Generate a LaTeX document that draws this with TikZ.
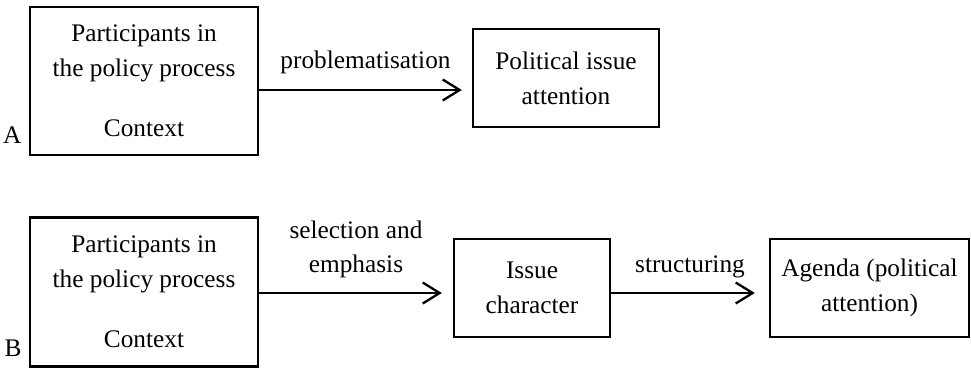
\documentclass[tikz,border=0pt]{standalone}
\usepackage{fontspec}
\setmainfont{Liberation Serif}
\usetikzlibrary{arrows.meta,positioning,calc}

\begin{document}
\begin{tikzpicture}[
    box/.style={draw, line width=1.3pt, align=center, inner sep=0pt,
        font=\fontsize{14.4}{19.9}\selectfont},
    flow/.style={-{Straight Barb[length=3.4mm, width=4.2mm]}, line width=1.3pt},
    lbl/.style={align=center, inner sep=0pt, font=\fontsize{14.4}{19.9}\selectfont}
]
    \useasboundingbox (0,0) rectangle (19.42,7.38);

    % Row A
    \node[box, minimum width=4.56cm, minimum height=2.96cm] (a1) at (2.88,5.76)
        {Participants in\\the policy process\\[0.5cm]Context};
    \node[box, minimum width=3.72cm, minimum height=1.96cm] (a2) at (11.32,5.82)
        {Political issue\\attention};
    \node[lbl, anchor=base east] (la) at ($(a1.south west)+(-0.14,0.26)$) {A};

    % Arrow A
    \coordinate (ya) at (0,5.58);
    \draw[flow, shorten >=0.2cm] (a1.east |- ya) -- (a2.west |- ya)
        node[lbl, midway, above=0.44cm, anchor=base] (pa) {problematisation};

    % Row B
    \node[box, minimum width=4.56cm, minimum height=2.98cm] (b1) at (2.88,1.54)
        {Participants in\\the policy process\\[0.5cm]Context};
    \node[box, minimum width=3.12cm, minimum height=1.96cm] (b2) at (10.64,1.62)
        {Issue\\character};
    \node[box, minimum width=3.98cm, minimum height=1.96cm] (b3) at (17.39,1.62)
        {Agenda (political\\attention)};
    \node[lbl, anchor=base east] (lb) at ($(b1.south west)+(-0.14,0.22)$) {B};

    % Arrows B
    \coordinate (yb) at (0,1.52);
    \draw[flow, shorten >=0.22cm] (b1.east |- yb) -- (b2.west |- yb)
        node[lbl, midway, above=0.42cm, anchor=base] (pb) {emphasis};
    \node[lbl, anchor=base] (pb2) at ($(pb.base)+(0,0.68)$) {selection and};
    \draw[flow, shorten >=0.28cm] (b2.east |- yb) -- (b3.west |- yb)
        node[lbl, midway, above=0.42cm, anchor=base] (pc) {structuring};
\end{tikzpicture}
\end{document}
